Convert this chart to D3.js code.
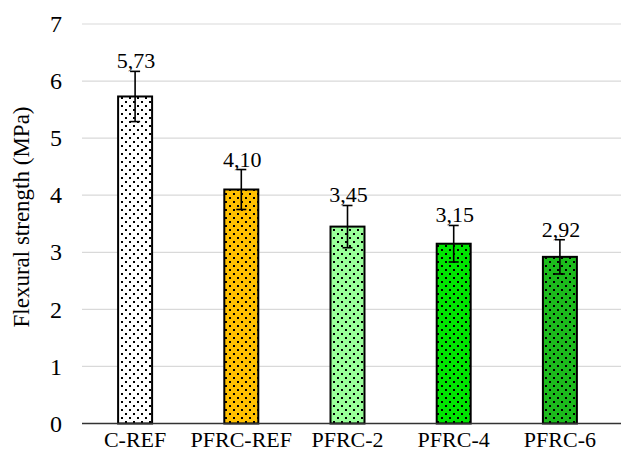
<!DOCTYPE html>
<html><head><meta charset="utf-8">
<script src="https://cdn.jsdelivr.net/npm/d3@7"></script>
<style>body{margin:0;background:#fff}svg{display:block}
svg text{font-family:"Liberation Serif","Times New Roman",Tinos,"DejaVu Serif",serif}</style>
</head><body>
<svg id="c" width="635" height="455"></svg>
<script>
const categories = ["C-REF","PFRC-REF","PFRC-2","PFRC-4","PFRC-6"];
const values = [5.73, 4.10, 3.45, 3.15, 2.92];
const errors = [0.44, 0.35, 0.37, 0.32, 0.30];
const valueLabels = ["5,73","4,10","3,45","3,15","2,92"];
const colors = ["#ffffff","#ffc000","#99ff99","#00e600","#1cbb1c"];
const yTicks = [0,1,2,3,4,5,6,7];
const yTitle = "Flexural strength (MPa)";

const svg = d3.select("#c");
const L = 82, R = 613, T = 24, B = 423.5;
const x = d3.scaleBand().domain(categories).range([L, R]).paddingInner(0.68).paddingOuter(0.34);
const y = d3.scaleLinear().domain([0, 7]).range([B, T]);

const defs = svg.append("defs");
categories.forEach((c, i) => {
  const p = defs.append("pattern").attr("id", "pat" + i).attr("patternUnits", "userSpaceOnUse")
    .attr("width", 8).attr("height", 8);
  p.append("rect").attr("width", 8).attr("height", 8).attr("fill", colors[i]);
  p.append("rect").attr("x", 1).attr("y", 1).attr("width", 2).attr("height", 2).attr("fill", "#000");
  p.append("rect").attr("x", 5).attr("y", 5).attr("width", 2).attr("height", 2).attr("fill", "#000");
});

// grid
svg.append("g").selectAll("line").data(yTicks.filter(d => d > 0)).join("line")
  .attr("x1", L).attr("x2", R + 8).attr("y1", d => y(d)).attr("y2", d => y(d))
  .attr("stroke", "#d9d9d9").attr("stroke-width", 1.2);

// y axis tick labels
const yAxis = d3.axisLeft(y).tickValues(yTicks).tickSize(0).tickPadding(20).tickFormat(d3.format("d"));
const ya = svg.append("g").attr("transform", `translate(${L},0)`).call(yAxis);
ya.select(".domain").remove();
ya.attr("font-family", null);
ya.selectAll("text").attr("font-size", 24).attr("fill", "#000");

// bars
svg.append("g").selectAll("rect").data(categories).join("rect")
  .attr("x", d => x(d)).attr("width", x.bandwidth())
  .attr("y", (d, i) => y(values[i])).attr("height", (d, i) => y(0) - y(values[i]))
  .attr("fill", (d, i) => `url(#pat${i})`).attr("stroke", "#000").attr("stroke-width", 2);

// x axis
svg.append("line").attr("x1", L).attr("x2", R + 8).attr("y1", y(0)).attr("y2", y(0))
  .attr("stroke", "#333").attr("stroke-width", 1.5);
const xAxis = d3.axisBottom(x).tickSize(0).tickPadding(8);
const xa = svg.append("g").attr("transform", `translate(0,${y(0)})`).call(xAxis);
xa.select(".domain").remove();
xa.attr("font-family", null);
xa.selectAll("text").attr("font-size", 22).attr("fill", "#000");

// error bars
const eg = svg.append("g").attr("stroke", "#000").attr("stroke-width", 1.6);
categories.forEach((c, i) => {
  const cx = x(c) + x.bandwidth() / 2;
  const y1 = y(values[i] + errors[i]), y2 = y(values[i] - errors[i]);
  eg.append("line").attr("x1", cx).attr("x2", cx).attr("y1", y1).attr("y2", y2);
  eg.append("line").attr("x1", cx - 5).attr("x2", cx + 5).attr("y1", y1).attr("y2", y1);
  eg.append("line").attr("x1", cx - 5).attr("x2", cx + 5).attr("y1", y2).attr("y2", y2);
});

// value labels
svg.append("g").selectAll("text").data(categories).join("text")
  .attr("x", d => x(d) + x.bandwidth() / 2 + 1)
  .attr("y", (d, i) => y(values[i] + errors[i]) - 3)
  .attr("text-anchor", "middle").attr("font-size", 22).attr("fill", "#000")
  .text((d, i) => valueLabels[i]);

// y title
svg.append("text").attr("transform", `translate(24,217) rotate(-90)`)
  .attr("text-anchor", "middle").attr("dominant-baseline", "middle")
  .attr("font-size", 23).attr("fill", "#000").text(yTitle);
</script>
</body></html>
